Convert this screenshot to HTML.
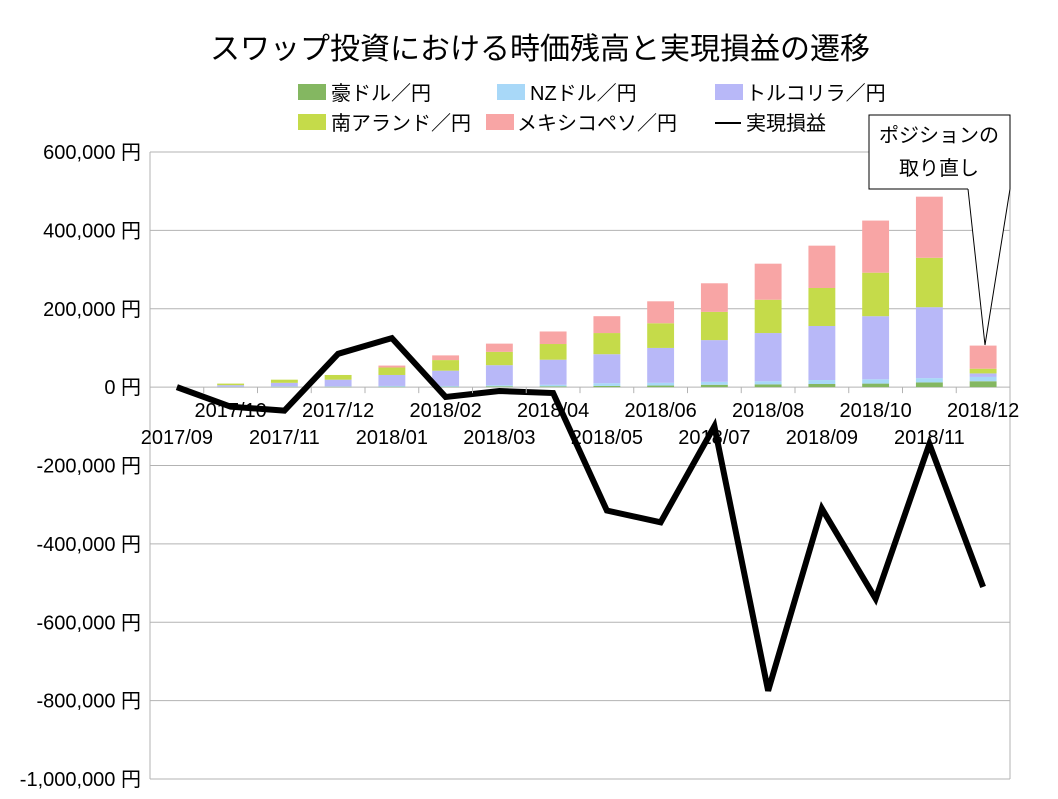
<!DOCTYPE html>
<html><head><meta charset="utf-8">
<style>
html,body{margin:0;padding:0;background:#fff;}
body{width:1058px;height:794px;overflow:hidden;font-family:"Liberation Sans","Noto Sans CJK JP",sans-serif;}
</style></head>
<body>
<svg id="chart" width="1058" height="794" xmlns="http://www.w3.org/2000/svg" font-family="Liberation Sans, Noto Sans CJK JP, sans-serif">
<text x="540" y="59" font-size="30" text-anchor="middle" fill="#000">スワップ投資における時価残高と実現損益の遷移</text>
<g id="grid"></g>
<g id="bars"></g>
<g id="line"></g>
<g id="axes"></g>
<g id="legend">
 <rect x="298" y="84" width="28" height="16" fill="#84b761"/>
 <text x="331" y="100" font-size="20">豪ドル／円</text>
 <rect x="497" y="84" width="28" height="16" fill="#a8d8f8"/>
 <text x="530" y="100" font-size="20">NZドル／円</text>
 <rect x="715" y="84" width="28" height="16" fill="#b8b8f8"/>
 <text x="746" y="100" font-size="20">トルコリラ／円</text>
 <rect x="298" y="114" width="28" height="16" fill="#c5db4a"/>
 <text x="331" y="130" font-size="20">南アランド／円</text>
 <rect x="486" y="114" width="28" height="16" fill="#f8a5a5"/>
 <text x="517" y="130" font-size="20">メキシコペソ／円</text>
 <line x1="715" y1="123" x2="741" y2="123" stroke="#000" stroke-width="2"/>
 <text x="746" y="130" font-size="20">実現損益</text>
</g>
<g>
 <path d="M968,189 L869,189 L869,115 L1010,115 L1010,189 M968,189 L985,345 L1010,189" fill="#fff" stroke="#000" stroke-width="1"/>
 <text x="939" y="142" font-size="20" text-anchor="middle">ポジションの</text>
 <text x="939" y="175" font-size="20" text-anchor="middle">取り直し</text>
</g>
</svg>
<script>
const categories=["2017/09","2017/10","2017/11","2017/12","2018/01","2018/02","2018/03","2018/04","2018/05","2018/06","2018/07","2018/08","2018/09","2018/10","2018/11","2018/12"];
const aud=[0,0.5,1,1,1,1,2,2,3,4,6,7,8,9,12,15];
const nzd=[0,0.5,1,1,2,2,3,4,7,7,7.5,8,10,11,11,11];
const tryl=[0,4,9,17,28,39,51,64,74,89,106.5,123,138,161,181,9];
const zar=[0,4,8,12,19,27,34,40,54,63,72,85,97,111,126,12];
const mxn=[0,0,0,0,5,12,21,32,43,56,73,92,108,133,156,59];
const realized=[0,-50,-60,85,125,-25,-10,-15,-315,-345,-100,-775,-310,-540,-145,-510];
const yTicks=[600,400,200,0,-200,-400,-600,-800,-1000];
const yTickLabels=["600,000 円","400,000 円","200,000 円","0 円","-200,000 円","-400,000 円","-600,000 円","-800,000 円","-1,000,000 円"];
const NS="http://www.w3.org/2000/svg";
const L=150,R=1010,T=152,B=779;
const step=(R-L)/categories.length;
function y(v){return T+(600-v)/1600*(B-T);}
function xc(i){return L+step*(i+0.5);}
function mk(tag,attrs,parent){const e=document.createElementNS(NS,tag);for(const k in attrs)e.setAttribute(k,attrs[k]);document.getElementById(parent).appendChild(e);return e;}
yTicks.forEach((t,i)=>{
 const g=mk("line",{x1:L,x2:R,y1:y(t),y2:y(t),stroke:"#b3b3b3","stroke-width":1},"grid");
 
 
 const tx=mk("text",{x:141,y:y(t)+7,"font-size":20,"text-anchor":"end"},"axes");
 tx.textContent=yTickLabels[i];
 
 
});
const va=mk("line",{x1:L,x2:L,y1:T,y2:B,stroke:"#b3b3b3"},"axes");


const vr=mk("line",{x1:R,x2:R,y1:T,y2:B,stroke:"#b3b3b3"},"axes");


for(let i=0;i<=categories.length;i++){
 const tk=mk("line",{x1:L+step*i,x2:L+step*i,y1:y(0),y2:y(0)+6,stroke:"#b3b3b3"},"axes");
 
 
}
categories.forEach((c,i)=>{
 const tx=mk("text",{x:xc(i),y:i%2?417:444,"font-size":20,"text-anchor":"middle"},"axes");
 tx.textContent=c;
 
 
});
const series=[[aud,"#84b761","aud"],[nzd,"#a8d8f8","nzd"],[tryl,"#b8b8f8","try"],[zar,"#c5db4a","zar"],[mxn,"#f8a5a5","mxn"]];
const bw=step*0.5;
categories.forEach((c,i)=>{
 let base=0;
 series.forEach(s=>{
  const v=s[0][i];if(v<=0)return;
  const r=mk("rect",{x:xc(i)-bw/2,y:y(base+v),width:bw,height:y(base)-y(base+v),fill:s[1]},"bars");
  
  
  base+=v;
 });
});
const pts=realized.map((v,i)=>xc(i)+","+y(v)).join(" ");
const pl=mk("polyline",{points:pts,fill:"none",stroke:"#000","stroke-width":6,"stroke-linejoin":"miter"},"line");


</script>
</body></html>
